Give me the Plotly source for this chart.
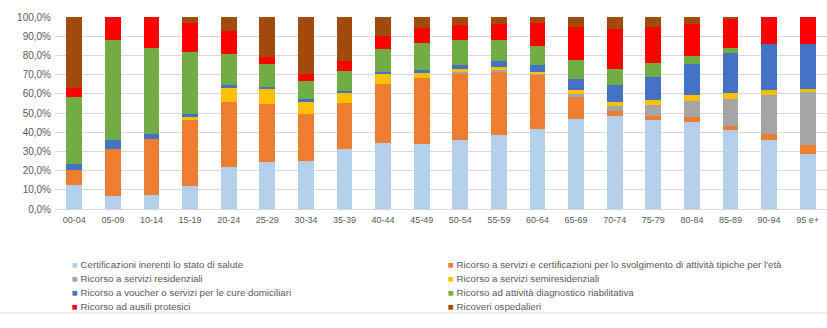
import plotly.graph_objects as go

# Age classes (x axis)
categories = ["00-04", "05-09", "10-14", "15-19", "20-24", "25-29", "30-34", "35-39",
              "40-44", "45-49", "50-54", "55-59", "60-64", "65-69", "70-74", "75-79",
              "80-84", "85-89", "90-94", "95 e+"]

# Percentage shares per age class, one list per category of service
certificazioni = [12.5, 6.8, 7.3, 12.0, 22.0, 24.6, 25.0, 31.1, 34.5, 33.9,
                  35.9, 38.5, 41.7, 47.1, 48.3, 46.3, 45.4, 40.9, 36.2, 28.9]
servizi_eta = [8.0, 24.4, 29.4, 34.5, 33.6, 29.9, 24.4, 23.9, 30.7, 34.2,
               34.8, 32.9, 28.1, 11.2, 2.7, 2.1, 2.6, 2.3, 3.1, 4.3]
residenziali = [0.0, 0.0, 0.0, 0.0, 0.0, 0.0, 0.0, 0.0, 0.0, 0.0,
                0.5, 0.9, 0.8, 1.7, 2.5, 5.7, 8.2, 14.3, 20.0, 27.8]
semiresidenziali = [0.0, 0.0, 0.0, 1.2, 7.4, 7.9, 6.5, 5.2, 5.0, 2.9,
                    1.5, 1.7, 0.9, 2.1, 2.2, 2.6, 3.1, 2.9, 2.6, 1.7]
voucher = [3.0, 4.7, 2.6, 1.7, 1.5, 1.3, 1.2, 1.3, 1.4, 1.4,
           2.3, 3.1, 3.6, 5.7, 8.7, 12.1, 16.1, 20.6, 24.3, 23.0]
diagnostico = [35.0, 52.3, 44.6, 32.2, 16.3, 11.9, 9.6, 10.5, 11.8, 14.0,
               13.0, 11.1, 9.6, 9.6, 8.6, 7.0, 4.1, 2.8, 0.0, 0.0]
ausili = [4.3, 11.8, 16.1, 15.4, 11.9, 3.8, 3.5, 5.3, 6.8, 7.8,
          7.8, 8.0, 12.0, 17.3, 20.8, 19.1, 17.0, 15.5, 13.8, 14.3]
ricoveri = [37.2, 0.0, 0.0, 3.0, 7.3, 20.6, 29.7, 22.7, 9.8, 5.8,
            4.2, 3.8, 3.3, 5.3, 6.2, 5.1, 3.5, 0.7, 0.0, 0.0]

series_names = [
    "Certificazioni inerenti lo stato di salute",
    "Ricorso a servizi e certificazioni per lo svolgimento di attività tipiche per l'età",
    "Ricorso a servizi residenziali",
    "Ricorso a servizi semiresidenziali",
    "Ricorso a voucher o servizi per le cure domiciliari",
    "Ricorso ad attività diagnostico riabilitativa",
    "Ricorso ad ausili protesici",
    "Ricoveri ospedalieri",
]
series_values = [certificazioni, servizi_eta, residenziali, semiresidenziali,
                 voucher, diagnostico, ausili, ricoveri]
series_colors = ["#B4CFEC", "#ED7D31", "#A5A5A5", "#FFC000",
                 "#4472C4", "#70AD47", "#FF0000", "#A34A0E"]

y_ticks = [0, 10, 20, 30, 40, 50, 60, 70, 80, 90, 100]
y_tick_labels = ["0,0%", "10,0%", "20,0%", "30,0%", "40,0%", "50,0%",
                 "60,0%", "70,0%", "80,0%", "90,0%", "100,0%"]

FONT = "Liberation Sans, Arial, sans-serif"
TEXT = "#595959"
GRID = "#D9D9D9"

fig = go.Figure()
for name, vals, col in zip(series_names, series_values, series_colors):
    fig.add_trace(go.Bar(x=categories, y=vals, name=name, marker_color=col,
                         marker_line_width=0, showlegend=False))

# Two-column legend below the plot, drawn as text entries
L_PX, PLOT_W, PLOT_H, T_PX = 55, 772, 192, 17
col_x = [70, 446]
row_y = [264, 278, 292, 306]
for i, (name, col) in enumerate(zip(series_names, series_colors)):
    px_x = col_x[i % 2]
    px_y = row_y[i // 2]
    fig.add_annotation(
        xref="paper", yref="paper",
        x=(px_x - L_PX) / PLOT_W, y=(T_PX + PLOT_H - px_y) / PLOT_H,
        xanchor="left", yanchor="middle", showarrow=False,
        text=f'<span style="color:{col}">■</span> {name}',
        font=dict(family=FONT, size=9.7, color=TEXT),
    )

# Chart-area bottom border
fig.add_shape(type="line", xref="paper", yref="paper",
              x0=-L_PX / PLOT_W, x1=(827 - L_PX) / PLOT_W,
              y0=(T_PX + PLOT_H - 313) / PLOT_H, y1=(T_PX + PLOT_H - 313) / PLOT_H,
              line=dict(color=GRID, width=1))

fig.update_layout(
    width=827, height=328,
    margin=dict(l=L_PX, r=0, t=T_PX, b=328 - T_PX - PLOT_H, pad=0),
    barmode="stack", bargap=0.59,
    paper_bgcolor="white", plot_bgcolor="white",
    font=dict(family=FONT, size=9, color=TEXT),
    xaxis=dict(type="category", range=[-0.5, len(categories) - 0.5],
               showgrid=False, showline=True, linecolor=GRID, linewidth=1,
               ticks="", tickfont=dict(size=9, color=TEXT), ticklabelstandoff=2),
    yaxis=dict(range=[0, 100], tickvals=y_ticks, ticktext=y_tick_labels,
               showgrid=True, gridcolor=GRID, gridwidth=1, zeroline=False,
               showline=False, ticks="", tickfont=dict(size=10, color=TEXT),
               ticklabelstandoff=3),
)

fig.write_html("out.html")
